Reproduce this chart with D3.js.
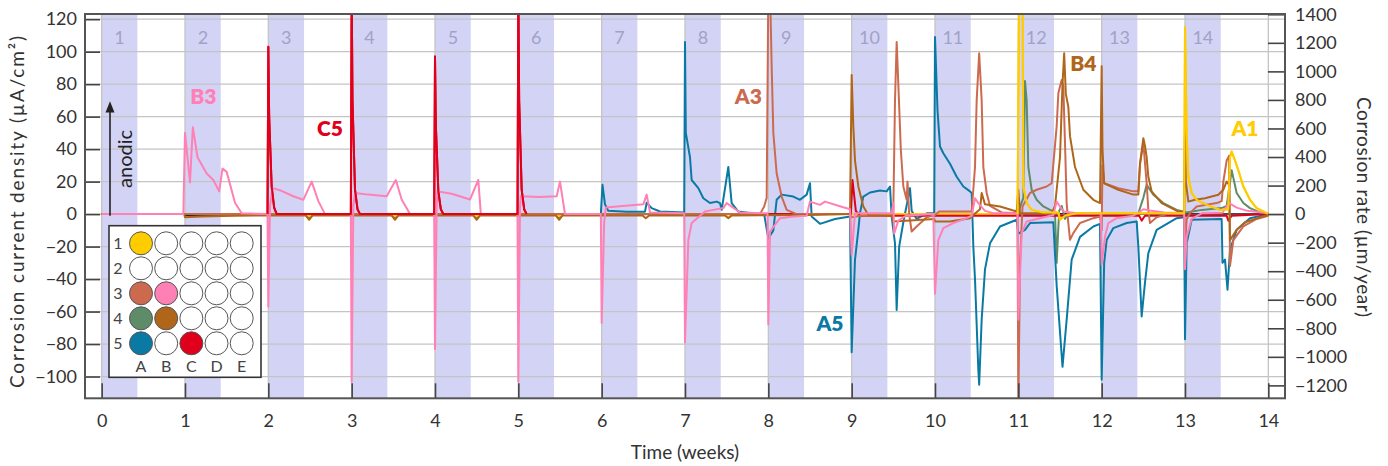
<!DOCTYPE html>
<html><head><meta charset="utf-8">
<script src="https://cdn.jsdelivr.net/npm/d3@7"></script>
<style>
html,body{margin:0;padding:0;background:#fff;}
svg{display:block;font-family:Lato,"Noto Sans",sans-serif;}
</style></head>
<body>
<svg id="chart" width="1388" height="466"></svg>
<script>
// ---------- data ----------
const weeks = [0,1,2,3,4,5,6,7,8,9,10,11,12,13,14];
const bandLabels = ["1","2","3","4","5","6","7","8","9","10","11","12","13","14"];
const leftTicks = [-100,-80,-60,-40,-20,0,20,40,60,80,100,120];
const rightTicks = [-1200,-1000,-800,-600,-400,-200,0,200,400,600,800,1000,1200,1400];
const wellRows = ["1","2","3","4","5"];
const wellCols = ["A","B","C","D","E"];
const activeWells = [["A","1","#ffcc00"],["A","3","#cc6a50"],["B","3","#ff80b4"],["A","4","#5e8c68"],["B","4","#b0661a"],["A","5","#0a7aa5"],["C","5","#e0001b"]];

// [time (weeks), current density (µA/cm²)]
const other = [[1,0],[1.0,-0.8],[2,-0.5],[4,-0.3],[7,0],[11,0.2],[14,0]];
const A4 = [[0,0],[1,0],[2,-0.3],[5,-0.3],[8,0],[10.99,0],[11.06,10],[11.08,82],[11.10,70],[11.12,29],[11.16,15],[11.22,8.8],[11.30,4.7],[11.38,2.6],[11.44,1],[11.46,-30],[11.49,2],[11.52,5],[11.56,-3],[11.6,0.5],[12.0,0.5],[12.44,0.5],[12.50,10],[12.54,18],[12.62,12],[12.74,6.8],[12.90,2.6],[12.99,1.5],[13.02,1],[13.2,2.6],[13.44,3.7],[13.50,5],[13.56,27],[13.62,13],[13.70,6.8],[13.78,3.7],[13.9,1],[14,0.3]];
const A5 = [[0,0],[1,0],[2.45,-0.5],[2.49,-2.5],[2.53,-0.5],[3.48,-0.5],[3.52,-2.5],[3.56,-0.5],[4.46,-0.5],[4.50,-2.5],[4.54,-0.5],[5.45,-0.5],[5.49,-2.5],[5.53,-0.5],[5.99,0],[6.01,18],[6.04,6],[6.08,2],[6.3,1.5],[6.52,1.5],[6.54,7],[6.60,3.7],[6.70,1.6],[6.99,1],
 [7.0,106],[7.01,50],[7.06,35],[7.08,21],[7.16,16],[7.22,9.8],[7.30,6.8],[7.38,7.7],[7.42,6.8],[7.44,2.6],[7.52,29],[7.56,6.8],[7.64,1.6],[7.8,0.5],[7.95,0],
 [8.0,-15],[8.06,-10],[8.10,8.8],[8.16,12],[8.30,10.8],[8.38,8.8],[8.46,12],[8.50,19],[8.52,-1.5],[8.62,-6],[8.80,-3],[8.98,-1.5],
 [9.0,-85],[9.04,-28],[9.08,-9.7],[9.10,0.6],[9.14,10.8],[9.22,13.3],[9.34,14.5],[9.42,14],[9.46,17],[9.48,-1.5],[9.52,-18],[9.54,-59],[9.57,-20],[9.62,-5],[9.70,16],[9.72,2],[9.78,-3],[9.9,0.5],[9.99,0.5],
 [10.0,109],[10.03,64],[10.06,41.6],[10.10,37.5],[10.18,31],[10.26,23],[10.34,17],[10.42,14],[10.44,13],[10.46,-20],[10.48,-40],[10.52,-96],[10.53,-105],[10.56,-65],[10.60,-34],[10.66,-18],[10.78,-7.6],[10.98,-3.5],
 [11.0,-12],[11.08,-9.7],[11.14,-5.5],[11.42,-5],[11.46,-44],[11.53,-94],[11.58,-65],[11.64,-28],[11.74,-14],[11.90,-7.6],[11.98,-6],
 [12.0,-102],[12.03,-30],[12.06,-16],[12.14,-8.6],[12.30,-5.5],[12.42,-4.5],[12.44,-20],[12.48,-63],[12.52,-42],[12.56,-24],[12.66,-9.7],[12.90,-2.5],[12.99,-2],
 [13.0,-77],[13.02,-18],[13.08,-3.5],[13.44,-3],[13.45,-30],[13.48,-28],[13.51,-46.5],[13.54,-22],[13.62,-9.7],[13.78,-2.5],[14,0]];
const A3 = [[0,0],[7.9,0],[7.95,4.7],[7.98,10],[8.0,140],[8.02,140],[8.04,91],[8.06,50],[8.10,25],[8.16,10.8],[8.22,2.6],[8.34,0],[8.98,0],[9.0,-2],[9.1,-1],[9.48,-1],[9.50,2.6],[9.52,70],[9.54,106],[9.56,80],[9.59,39.5],[9.62,17],[9.66,8.8],[9.67,20],[9.69,0],[9.72,-10.7],[9.78,-7.6],[9.9,-2],[10.0,-0.5],[10.05,1.6],[10.44,1.6],[10.48,29],[10.50,70],[10.53,99],[10.56,70],[10.58,29],[10.62,13],[10.66,5],[10.8,1],[10.99,0.5],
 [11.0,-120],[11.02,-30],[11.05,4.7],[11.14,13],[11.22,15],[11.34,17],[11.40,19],[11.46,54],[11.48,74.4],[11.50,78.5],[11.52,82.6],[11.54,78.5],[11.56,43.7],[11.58,6.8],[11.60,-5.5],[11.62,-15.8],[11.66,-11.7],[11.74,-5.5],[11.90,-2.5],[11.98,-1.5],
 [12.0,-10],[12.01,30],[12.03,19],[12.2,16],[12.38,14],[12.44,14],[12.46,31],[12.50,43.7],[12.54,19],[12.56,2.6],[12.58,-5.5],[12.66,-2],[12.78,0],[12.99,0],
 [13.0,-20],[13.02,-3],[13.06,0.6],[13.14,4.7],[13.38,6.8],[13.44,8],[13.46,20],[13.50,33],[13.53,36],[13.54,-32],[13.58,-16],[13.70,-7.6],[13.86,-3],[14,-1]];
const B4 = [[0,0],[0.99,0],[1.0,-2],[1.2,-1.5],[1.6,-1],[2.0,-0.8],[2.45,-0.8],[2.49,-3.5],[2.53,-0.8],[3.48,-0.8],[3.52,-3.5],[3.56,-0.8],[4.46,-0.8],[4.50,-3.5],[4.54,-0.8],[5.45,-0.8],[5.49,-3.5],[5.53,-0.8],[6.49,-0.8],[6.53,-2.5],[6.57,-0.8],[7.48,-0.8],[7.52,-2.5],[7.56,-0.8],[8.5,-0.5],[8.98,0],
 [9.0,85.7],[9.02,54],[9.04,33],[9.08,17],[9.14,4.7],[9.2,-0.5],[9.48,-1],[9.50,-4.5],[9.7,-4],[9.99,-3],[10.0,-4.5],[10.18,-4.5],[10.42,-2.5],[10.46,-0.5],[10.54,3],[10.56,13],[10.60,6],[10.78,4.7],[10.98,1.6],
 [11.0,15],[11.02,0.6],[11.40,0.6],[11.44,5],[11.50,35],[11.53,80],[11.55,99],[11.57,74],[11.60,66],[11.62,48],[11.68,29],[11.78,15],[11.90,8.8],[11.98,6.8],
 [12.0,91],[12.01,40],[12.03,19],[12.2,15],[12.38,12],[12.44,12],[12.46,31],[12.50,46.7],[12.52,42],[12.54,35],[12.56,23],[12.60,14],[12.72,6.8],[12.92,1.6],[12.99,1],
 [13.0,51],[13.01,20],[13.04,7.7],[13.12,8.8],[13.24,9.8],[13.40,11.9],[13.46,15],[13.50,20],[13.53,18],[13.54,-16],[13.62,-9.7],[13.72,-5],[13.90,-2],[14,-0.5]];
const C5 = [[0,0],[1.99,0],[2.0,103],[2.01,60],[2.04,17],[2.07,4],[2.10,0],[2.99,0],[3.0,140],[3.01,70],[3.04,15],[3.07,3],[3.10,0],[3.99,0],[4.0,97],[4.01,55],[4.04,14],[4.07,3],[4.10,0],[4.99,0],[5.0,140],[5.01,70],[5.04,15],[5.07,3],[5.10,0],[8.99,0],[9.01,21],[9.05,2],[9.1,-1],[10.5,-1],[11.0,-1],[12.0,-1],[12.45,-1],[12.48,-4],[12.52,-1],[13.0,-1],[13.5,-1],[13.52,-4],[13.56,-1],[14,0]];
const A1 = [[0,0],[1,0],[2.45,0],[2.49,-1.5],[2.53,0],[3.48,0],[3.52,-1.5],[3.56,0],[4.46,0],[4.50,-1.5],[4.54,0],[5.45,0],[5.49,-1.5],[5.53,0],[7.48,0],[7.52,-2],[7.56,0],[10.99,0],[11.01,140],[11.05,140],[11.06,17],[11.10,6.8],[11.16,2.6],[11.3,1],[11.48,1],[11.50,-3.5],[11.56,-1],[11.7,0.5],[12.99,0.5],[13.0,115],[13.02,50],[13.04,23],[13.08,13],[13.14,8.8],[13.26,5.7],[13.42,2.6],[13.52,3],[13.54,35],[13.56,38.5],[13.60,33],[13.64,27],[13.70,17],[13.78,8.8],[13.86,3.7],[13.98,0.6],[14,0.5]];
const B3 = [[0,0],[0.98,0],[1.0,50],[1.06,19.5],[1.094,53.5],[1.15,35],[1.26,25],[1.34,21],[1.41,14],[1.45,28],[1.50,26],[1.60,7],[1.68,0.5],[1.99,0],
 [2.0,-57],[2.02,5],[2.05,16],[2.15,14.5],[2.3,11],[2.42,8.8],[2.52,20],[2.6,8],[2.68,0],[2.99,0],
 [3.0,-103],[3.02,5],[3.04,13],[3.2,12],[3.42,11],[3.53,21],[3.6,9],[3.70,0],[3.99,0],
 [4.0,-83],[4.02,5],[4.03,14],[4.2,12.5],[4.42,9],[4.52,21],[4.55,0],[4.99,0],
 [5.0,-103],[5.02,5],[5.03,11],[5.25,10.5],[5.46,11],[5.50,20],[5.56,0],[5.99,0],
 [6.0,-67],[6.03,-5],[6.05,4],[6.25,5],[6.50,6],[6.54,12],[6.58,1],[6.99,0.5],
 [7.0,-79],[7.04,-16],[7.08,-5.5],[7.24,1.6],[7.34,2.6],[7.46,3.7],[7.50,6.8],[7.66,1],[7.99,0.5],
 [8.0,-68],[8.02,-10.7],[8.14,-2.5],[8.30,-1.5],[8.46,-1],[8.50,7.7],[8.62,5.7],[8.68,7.7],[8.85,5],[8.98,3],
 [9.0,-25],[9.04,0.6],[9.48,0.5],[9.50,7],[9.51,-12],[9.56,-4],[9.65,-1],[9.98,0],
 [10.0,-49],[10.04,-16],[10.10,-8.6],[10.22,-5.5],[10.38,-2.5],[10.44,-1],[10.48,9.8],[10.52,6.8],[10.6,2],[10.7,0.6],[10.99,0.5],
 [11.0,-65],[11.04,-11.7],[11.10,-4.5],[11.26,-2.5],[11.42,-0.5],[11.46,7.7],[11.54,1.6],[11.7,0.6],[11.99,0.5],
 [12.0,-31],[12.04,-14],[12.08,-5.5],[12.18,-2.5],[12.38,-1],[12.46,1.6],[12.5,3],[12.58,2.2],[12.75,1],[12.99,0.5],
 [13.0,-34],[13.02,-14],[13.08,-3],[13.2,0.5],[13.45,0.8],[13.50,5],[13.53,6.8],[13.62,4],[13.75,2],[14,0.6]];

const series = [
  {name:"other", color:"#222", data:other},
  {name:"A4", color:"#5e8c68", data:A4},
  {name:"A5", color:"#0a7aa5", data:A5},
  {name:"A1", color:"#ffcc00", data:A1},
  {name:"C5", color:"#e0001b", data:C5},
  {name:"A3", color:"#cc6a50", data:A3},
  {name:"B4", color:"#b0661a", data:B4},
  {name:"B3", color:"#ff80b4", data:B3}
];
const labels = [
  {text:"B3", t:1.22, v:68, color:"#ff80b4"},
  {text:"C5", t:2.74, v:48, color:"#e0001b"},
  {text:"A3", t:7.76, v:68, color:"#cc6a50"},
  {text:"B4", t:11.78, v:88, color:"#b0661a"},
  {text:"A1", t:13.72, v:48, color:"#ffcc00"},
  {text:"A5", t:8.74, v:-72, color:"#0a7aa5"}
];

// ---------- layout ----------
const svg = d3.select("#chart");
const L = 85, R = 1285, T = 14, B = 398.3;
const x = d3.scaleLinear().domain([-0.2, 14.2]).range([L, R]);
const y = d3.scaleLinear().domain([-113.4, 123.2]).range([B, T]);
const yR = d3.scaleLinear().domain([-113.4*11.38, 123.2*11.38]).range([B, T]);

const defs = svg.append("defs");
defs.append("clipPath").attr("id","clip")
  .append("rect").attr("x",L).attr("y",T).attr("width",R-L).attr("height",B-T);
defs.append("marker").attr("id","arr").attr("viewBox","0 0 10 10")
  .attr("refX",5).attr("refY",5).attr("markerWidth",7).attr("markerHeight",9).attr("orient","auto")
  .append("path").attr("d","M0,1 L10,5 L0,9 Z").attr("fill","#222");

// bands
svg.append("g").selectAll("rect").data(weeks.slice(0,14)).join("rect")
  .attr("x", d=>x(d)).attr("y",T).attr("width", d=>x(d+3/7)-x(d)).attr("height",B-T)
  .attr("fill","#d3d3f6");

// grid
svg.append("g").selectAll("line").data(leftTicks).join("line")
  .attr("x1",L).attr("x2",R).attr("y1",d=>y(d)).attr("y2",d=>y(d))
  .attr("stroke","#c4c4c4").attr("stroke-width",1.3);
svg.append("g").selectAll("line").data(weeks).join("line")
  .attr("x1",d=>x(d)).attr("x2",d=>x(d)).attr("y1",T).attr("y2",B)
  .attr("stroke","#c4c4c4").attr("stroke-width",1.3);

// band numbers
svg.append("g").selectAll("text").data(bandLabels).join("text")
  .attr("x",(d,i)=>x(i+1.5/7)).attr("y",44).attr("text-anchor","middle")
  .attr("font-size",18).attr("fill","#a2a2c4").text(d=>d);

// lines
const line = d3.line().x(d=>x(d[0])).y(d=>y(d[1]));
const gl = svg.append("g").attr("clip-path","url(#clip)");
series.forEach(s=>{
  gl.append("path").datum(s.data).attr("d",line).attr("fill","none")
    .attr("stroke",s.color).attr("stroke-width",s.name==="other"?1.5:2).attr("stroke-linejoin","round");
});
// red and yellow spikes drawn on top where they dominate
gl.append("path").datum(C5.filter(d=>d[0]>=1.99 && d[0]<=5.1)).attr("d",line).attr("fill","none")
  .attr("stroke","#e0001b").attr("stroke-width",2).attr("stroke-linejoin","round");
gl.append("path").datum(A1.filter(d=>d[0]>=10.99)).attr("d",line).attr("fill","none")
  .attr("stroke","#ffcc00").attr("stroke-width",2).attr("stroke-linejoin","round");

// axes
const styleAxis = g => {
  g.select(".domain").remove();
  g.selectAll(".tick line").attr("stroke","#444").attr("stroke-width",1.6);
  g.selectAll(".tick text").attr("fill","#333").attr("font-size",18).attr("font-family","Lato, 'Noto Sans', sans-serif");
};
svg.append("g").attr("transform",`translate(${L},0)`)
  .call(d3.axisLeft(y).tickValues(leftTicks).tickSizeInner(-15).tickSizeOuter(0).tickPadding(8)).call(styleAxis);
svg.append("g").attr("transform",`translate(${R},0)`)
  .call(d3.axisRight(yR).tickValues(rightTicks).tickSizeInner(-17).tickSizeOuter(0).tickPadding(10).tickFormat(d3.format("d"))).call(styleAxis);
svg.append("g").attr("transform",`translate(0,${B})`)
  .call(d3.axisBottom(x).tickValues(weeks).tickSizeInner(-15).tickSizeOuter(0).tickPadding(16).tickFormat(d3.format("d"))).call(styleAxis);
svg.append("rect").attr("x",L).attr("y",T).attr("width",R-L).attr("height",B-T)
  .attr("fill","none").attr("stroke","#555").attr("stroke-width",2);

// annotation labels
svg.append("g").selectAll("text").data(labels).join("text")
  .attr("x",d=>x(d.t)).attr("y",d=>y(d.v)).attr("text-anchor","middle")
  .attr("font-size",21).attr("font-weight",800).attr("fill",d=>d.color).text(d=>d.text);

// anodic arrow
svg.append("line").attr("x1",110).attr("x2",110).attr("y1",y(-1)).attr("y2",y(66))
  .attr("stroke","#222").attr("stroke-width",1.6).attr("marker-end","url(#arr)");
svg.append("text").attr("transform",`translate(132,${y(34)}) rotate(-90)`)
  .attr("text-anchor","middle").attr("font-size",20).attr("fill","#222").text("anodic");

// axis titles
svg.append("text").attr("transform","translate(24,212) rotate(-90)").attr("text-anchor","middle")
  .attr("font-size",19).attr("fill","#333").attr("textLength",352).attr("lengthAdjust","spacing")
  .text("Corrosion current density (µA/cm²)");
svg.append("text").attr("transform","translate(1357,207) rotate(90)").attr("text-anchor","middle")
  .attr("font-size",19).attr("fill","#333").attr("textLength",220).attr("lengthAdjust","spacing")
  .text("Corrosion rate (µm/year)");
svg.append("text").attr("x",685).attr("y",459).attr("text-anchor","middle")
  .attr("font-size",19).attr("fill","#333").text("Time (weeks)");

// legend inset (well plate)
const lg = svg.append("g");
lg.append("rect").attr("x",109).attr("y",225.7).attr("width",152).attr("height",151.6)
  .attr("fill","#fff").attr("stroke","#333").attr("stroke-width",1.6);
const cx = d3.scalePoint().domain(wellCols).range([141,241.7]);
const cy = d3.scalePoint().domain(wellRows).range([243.3,343.3]);
const fillOf = (c,r)=>{const f=activeWells.find(w=>w[0]===c&&w[1]===r);return f?f[2]:"#fff";};
const cells = wellRows.flatMap(r=>wellCols.map(c=>({c,r})));
lg.selectAll("circle").data(cells).join("circle")
  .attr("cx",d=>cx(d.c)).attr("cy",d=>cy(d.r)).attr("r",11.5)
  .attr("fill",d=>fillOf(d.c,d.r)).attr("stroke","#555").attr("stroke-width",1);
lg.selectAll("text.row").data(wellRows).join("text").attr("class","row")
  .attr("x",118).attr("y",d=>cy(d)+6).attr("text-anchor","middle").attr("font-size",16).attr("fill","#444").text(d=>d);
lg.selectAll("text.col").data(wellCols).join("text").attr("class","col")
  .attr("x",d=>cx(d)).attr("y",372).attr("text-anchor","middle").attr("font-size",16).attr("fill","#444").text(d=>d);
</script>
</body></html>
